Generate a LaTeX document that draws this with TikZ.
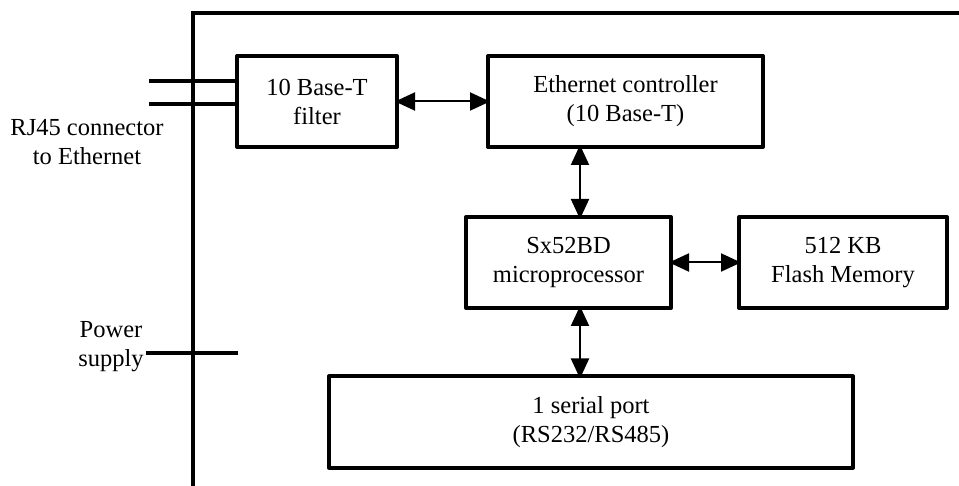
\documentclass[tikz,border=0pt]{standalone}
\usepackage{fontspec}
\setmainfont{Liberation Serif}
\usetikzlibrary{arrows.meta}
\begin{document}
\begin{tikzpicture}[x=1pt,y=-1pt,
  blk/.style={draw,line width=4pt,line join=round,inner sep=0pt,outer sep=0pt,
    align=center,font=\fontsize{24.5}{29}\selectfont},
  lbl/.style={inner sep=0pt,align=center,font=\fontsize{24.5}{29}\selectfont},
  dbl/.style={line width=2pt,{Triangle[length=20pt,width=18pt]}-{Triangle[length=20pt,width=18pt]},shorten <=-2pt,shorten >=-2pt},
  wire/.style={line width=4pt}]
\useasboundingbox (0,0) rectangle (959,486);
% outer frame
\coordinate (ftop) at (193,13);
\coordinate (fbot) at (193,488);
\coordinate (fright) at (961,13);
\draw[wire] (fbot) -- (ftop) -- (fright);
% blocks
\node[blk,minimum width=160pt,minimum height=91pt] (filter) at (317,101.5) {10 Base-T\\filter};
\node[blk,minimum width=275pt,minimum height=91pt] (eth) at (625.5,101.5) {Ethernet controller\\(10 Base-T)};
\node[blk,minimum width=205pt,minimum height=91pt] (micro) at (568.5,262.5) {Sx52BD\\microprocessor};
\node[blk,minimum width=208pt,minimum height=91pt] (flash) at (843,262.5) {512 KB\\Flash Memory};
\node[blk,minimum width=524pt,minimum height=91pt] (serial) at (591,422) {1 serial port\\(RS232/RS485)};
% labels
\node[lbl] (rjtxt) at (87,142) {RJ45 connector\\to Ethernet};
\node[lbl] (pwtxt) at (111,347) {Power\\supply};
% wires
\coordinate (rj1) at (149,80.7);
\coordinate (rj2) at (149,104);
\coordinate (pw) at (146,353);
\coordinate (pwend) at (238,353);
\draw[wire] (rj1) -- (rj1 -| filter.west);
\draw[wire] (rj2) -- (rj2 -| filter.west);
\draw[wire] (pw) -- (pwend);
% arrows
\coordinate (ax) at (580,0);
\draw[dbl] (filter.east) -- (eth.west);
\draw[dbl] (eth.south -| ax) -- (micro.north -| ax);
\draw[dbl] (micro.east) -- (flash.west);
\draw[dbl] (micro.south -| ax) -- (serial.north -| ax);
\end{tikzpicture}
\end{document}
